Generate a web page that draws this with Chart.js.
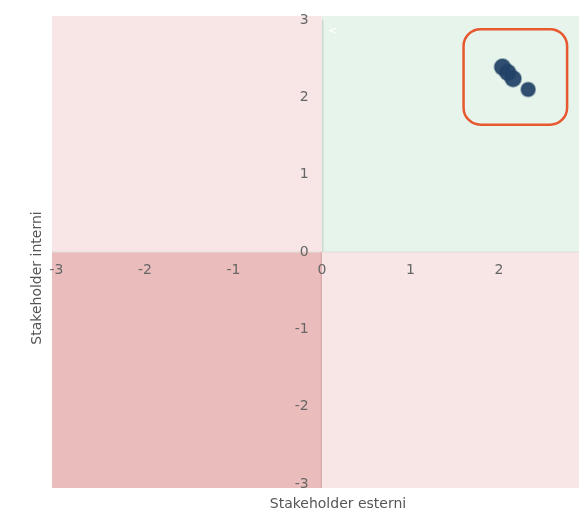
<!DOCTYPE html>
<html>
<head>
<meta charset="utf-8">
<script src="https://cdn.jsdelivr.net/npm/chart.js@4.4.1/dist/chart.umd.min.js"></script>
<style>
  html, body { margin: 0; padding: 0; background: #fff; overflow: hidden; }
  #wrap { width: 579px; height: 514px; overflow: hidden; }
</style>
</head>
<body>
<div id="wrap"><canvas id="myChart" width="602" height="514"></canvas></div>
<script>
// stakeholder scores
const esterni = [2.04, 2.10, 2.16, 2.33];
const interni = [2.39, 2.32, 2.24, 2.10];
const sizes = [8, 8, 8, 7];
const xTicks = [-3, -2, -1, 0, 1, 2, 3];
const yTicks = [-3, -2, -1, 0, 1, 2, 3];
const axisRange = [-3.05, 3.05];
// highlight box: [xMin, xMax, yMin, yMax]
const highlightBox = [1.60, 2.77, 1.645, 2.88];

const quadrants = {
  id: 'quadrants',
  beforeDraw(chart) {
    const {ctx, chartArea, scales: {x, y}} = chart;
    const x0 = x.getPixelForValue(0), y0 = y.getPixelForValue(0);
    const yTop = y.getPixelForValue(3), yBot = y.getPixelForValue(-3);
    ctx.save();
    ctx.fillStyle = '#f8e5e6';
    ctx.fillRect(chartArea.left, chartArea.top, x0 - chartArea.left, y0 - chartArea.top);
    ctx.fillStyle = '#e7f4eb';
    ctx.fillRect(x0, chartArea.top, chartArea.right - x0, y0 - chartArea.top);
    ctx.fillStyle = '#ebbcbc';
    ctx.fillRect(chartArea.left, y0, x0 - chartArea.left, chartArea.bottom - y0);
    ctx.fillStyle = '#f8e5e6';
    ctx.fillRect(x0, y0, chartArea.right - x0, chartArea.bottom - y0);
    // zero lines
    ctx.fillStyle = '#dfe0dc';
    ctx.fillRect(chartArea.left, y0 - 0.5, chartArea.right - chartArea.left, 1);
    ctx.fillStyle = '#c8dbce';
    ctx.fillRect(x0, yTop, 1.5, y0 - yTop);
    ctx.fillStyle = '#dcaeae';
    ctx.fillRect(x0 - 1.5, y0, 1.5, yBot + 4 - y0);
    ctx.fillStyle = '#ffffff';
    ctx.font = '11px "DejaVu Sans"';
    ctx.fillText('<', x0 + 6, chartArea.top + 18);
    ctx.restore();
  },
  afterDatasetsDraw(chart) {
    const {ctx, scales: {x, y}} = chart;
    const l = x.getPixelForValue(highlightBox[0]), r = x.getPixelForValue(highlightBox[1]);
    const t = y.getPixelForValue(highlightBox[3]), b = y.getPixelForValue(highlightBox[2]);
    ctx.save();
    ctx.strokeStyle = '#e8582e';
    ctx.lineWidth = 2.5;
    ctx.beginPath();
    ctx.roundRect(l, t, r - l, b - t, 17);
    ctx.stroke();
    ctx.restore();
  },
  afterDraw(chart) {
    const {ctx} = chart;
    ctx.save();
    ctx.fillStyle = '#555';
    ctx.font = '14px "DejaVu Sans"';
    ctx.textAlign = 'center';
    ctx.textBaseline = 'middle';
    ctx.fillText('Stakeholder esterni', 338, 504);
    ctx.translate(37, 278);
    ctx.rotate(-Math.PI / 2);
    ctx.fillText('Stakeholder interni', 0, 0);
    ctx.restore();
  }
};

Chart.defaults.font.family = '"DejaVu Sans"';
Chart.defaults.font.size = 14;
Chart.defaults.color = '#666';

const ctx = document.getElementById('myChart').getContext('2d');
new Chart(ctx, {
  type: 'scatter',
  data: {
    datasets: [{
      data: esterni.map((v, i) => ({x: v, y: interni[i]})),
      backgroundColor: 'rgba(33,66,102,0.93)',
      borderColor: 'rgba(33,66,102,0.45)',
      borderWidth: 2,
      pointRadius: sizes,
      pointHoverRadius: sizes
    }]
  },
  options: {
    responsive: false,
    animation: false,
    layout: { padding: { left: 52, top: 16, right: 0, bottom: 26 } },
    plugins: { legend: { display: false }, tooltip: { enabled: false } },
    scales: {
      x: {
        type: 'linear',
        min: axisRange[0], max: axisRange[1],
        position: { y: 0 },
        afterBuildTicks: s => { s.ticks = xTicks.map(v => ({value: v})); },
        grid: { display: false, drawTicks: false },
        border: { display: false },
        ticks: { padding: 10, maxRotation: 0, autoSkip: false, color: '#666' }
      },
      y: {
        type: 'linear',
        min: axisRange[0], max: axisRange[1],
        position: { x: -0.15 },
        afterBuildTicks: s => { s.ticks = yTicks.map(v => ({value: v})); },
        grid: { display: false, drawTicks: false },
        border: { display: false },
        ticks: { autoSkip: false, color: '#666' }
      }
    }
  },
  plugins: [quadrants]
});
</script>
</body>
</html>
